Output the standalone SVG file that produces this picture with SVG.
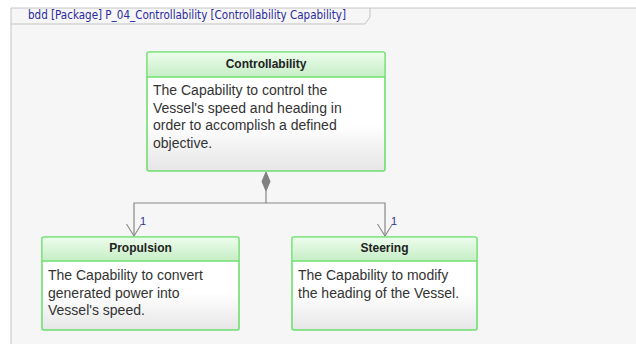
<svg xmlns="http://www.w3.org/2000/svg" width="636" height="344" viewBox="0 0 636 344">
<style>
.frame{fill:none;stroke:#c4c4c4;stroke-width:1}
.flabel{font-family:"DejaVu Sans","Liberation Sans",sans-serif;font-size:11.5px;fill:#2a2aa0}
.box{stroke:#6ee06e;stroke-width:1.6}
.title{font-family:"Liberation Sans",Arial,sans-serif;font-size:12px;font-weight:bold;fill:#222;text-anchor:middle}
.body{font-family:"Liberation Sans",Arial,sans-serif;font-size:14px;fill:#333}
.conn{fill:none;stroke:#888;stroke-width:1.2}
.mult{font-family:"Liberation Sans",Arial,sans-serif;font-size:11px;fill:#333399}
</style>
<defs>
<linearGradient id="hdr" x1="0" y1="0" x2="0" y2="1">
<stop offset="0" stop-color="#ecfcec"/>
<stop offset="1" stop-color="#c6eec6"/>
</linearGradient>
<linearGradient id="bdy" x1="0" y1="0" x2="0" y2="1">
<stop offset="0" stop-color="#ffffff"/>
<stop offset="0.6" stop-color="#ffffff"/>
<stop offset="1" stop-color="#e6e6e6"/>
</linearGradient>
<marker id="open" markerWidth="18" markerHeight="16" refX="9" refY="13" orient="0" markerUnits="userSpaceOnUse">
<polyline points="1.5,1 9,13 16.5,1" fill="none" stroke="#888" stroke-width="1.1"/>
</marker>
</defs>
<rect x="0" y="0" width="636" height="344" fill="#ffffff"/>
<rect x="11" y="8" width="625" height="336" fill="#f6f6f6"/>
<g id="frame">
<path class="frame" d="M11,344 V8 H636"/>
<path class="frame" d="M11,24 H365 L370,17 V8"/>
<text class="flabel" x="28" y="19" textLength="318" lengthAdjust="spacingAndGlyphs">bdd [Package] P_04_Controllability [Controllability Capability]</text>
</g>
<g id="connectors">
<path class="conn" d="M266,191 V203 H134 V236" marker-end="url(#open)"/>
<path class="conn" d="M266,203 H385 V236" marker-end="url(#open)"/>
<polygon points="266,172 270,181.5 266,191 262,181.5" fill="#808080" stroke="#808080" stroke-width="1"/>
<text class="mult" x="140" y="225">1</text>
<text class="mult" x="391" y="225">1</text>
</g>
<g id="controllability">
<rect class="box" x="147" y="52" width="238" height="119" rx="2" fill="url(#bdy)"/>
<rect x="147.8" y="52.8" width="236.4" height="24" fill="url(#hdr)"/>
<line x1="147" y1="77" x2="385" y2="77" stroke="#6ee06e" stroke-width="1.4"/>
<text class="title" x="266" y="68">Controllability</text>
<text class="body" x="153" y="95">The Capability to control the</text>
<text class="body" x="153" y="113">Vessel's speed and heading in</text>
<text class="body" x="153" y="130">order to accomplish a defined</text>
<text class="body" x="153" y="148">objective.</text>
</g>
<g id="propulsion">
<rect class="box" x="42" y="237" width="197" height="93" rx="2" fill="url(#bdy)"/>
<rect x="42.8" y="237.8" width="195.4" height="23" fill="url(#hdr)"/>
<line x1="42" y1="261" x2="239" y2="261" stroke="#6ee06e" stroke-width="1.4"/>
<text class="title" x="140.5" y="252">Propulsion</text>
<text class="body" x="48" y="280">The Capability to convert</text>
<text class="body" x="48" y="298">generated power into</text>
<text class="body" x="48" y="315">Vessel's speed.</text>
</g>
<g id="steering">
<rect class="box" x="292" y="237" width="185" height="93" rx="2" fill="url(#bdy)"/>
<rect x="292.8" y="237.8" width="183.4" height="23" fill="url(#hdr)"/>
<line x1="292" y1="261" x2="477" y2="261" stroke="#6ee06e" stroke-width="1.4"/>
<text class="title" x="384.5" y="252">Steering</text>
<text class="body" x="298" y="280">The Capability to modify</text>
<text class="body" x="298" y="298">the heading of the Vessel.</text>
</g>
</svg>
